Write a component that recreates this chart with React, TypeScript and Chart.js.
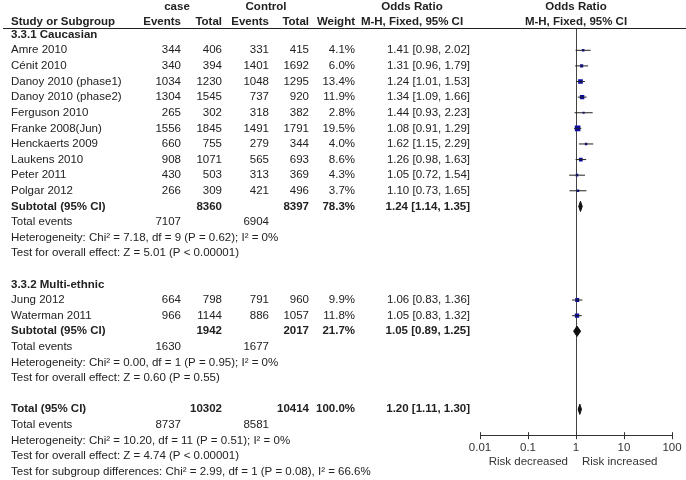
import { useEffect, useRef } from "react";
import { Chart, registerables } from "chart.js";

Chart.register(...registerables);

// ---------- data ----------
const studyNames = [
  "Amre 2010",
  "Cénit 2010",
  "Danoy 2010 (phase1)",
  "Danoy 2010 (phase2)",
  "Ferguson 2010",
  "Franke 2008(Jun)",
  "Henckaerts 2009",
  "Laukens 2010",
  "Peter 2011",
  "Polgar 2012",
  "Jung 2012",
  "Waterman 2011",
];
const studyGroup = [0, 0, 0, 0, 0, 0, 0, 0, 0, 0, 1, 1];
const caseEvents = [344, 340, 1034, 1304, 265, 1556, 660, 908, 430, 266, 664, 966];
const caseTotal = [406, 394, 1230, 1545, 302, 1845, 755, 1071, 503, 309, 798, 1144];
const ctrlEvents = [331, 1401, 1048, 737, 318, 1491, 279, 565, 313, 421, 791, 886];
const ctrlTotal = [415, 1692, 1295, 920, 382, 1791, 344, 693, 369, 496, 960, 1057];
const studyWeight = [4.1, 6.0, 13.4, 11.9, 2.8, 19.5, 4.0, 8.6, 4.3, 3.7, 9.9, 11.8];
const studyOR = [1.41, 1.31, 1.24, 1.34, 1.44, 1.08, 1.62, 1.26, 1.05, 1.10, 1.06, 1.05];
const studyLo = [0.98, 0.96, 1.01, 1.09, 0.93, 0.91, 1.15, 0.98, 0.72, 0.73, 0.83, 0.83];
const studyHi = [2.02, 1.79, 1.53, 1.66, 2.23, 1.29, 2.29, 1.63, 1.54, 1.65, 1.36, 1.32];

const groupNames = ["3.3.1 Caucasian", "3.3.2 Multi-ethnic"];
const groupCaseTotal = [8360, 1942];
const groupCtrlTotal = [8397, 2017];
const groupWeight = [78.3, 21.7];
const groupOR = [1.24, 1.05];
const groupLo = [1.14, 0.89];
const groupHi = [1.35, 1.25];
const groupCaseEvents = [7107, 1630];
const groupCtrlEvents = [6904, 1677];
const groupHeterogeneity = [
  "Heterogeneity: Chi² = 7.18, df = 9 (P = 0.62); I² = 0%",
  "Heterogeneity: Chi² = 0.00, df = 1 (P = 0.95); I² = 0%",
];
const groupEffect = [
  "Test for overall effect: Z = 5.01 (P < 0.00001)",
  "Test for overall effect: Z = 0.60 (P = 0.55)",
];

const totalCaseTotal = 10302;
const totalCtrlTotal = 10414;
const totalWeight = 100.0;
const totalOR = 1.2;
const totalLo = 1.11;
const totalHi = 1.3;
const totalCaseEvents = 8737;
const totalCtrlEvents = 8581;
const totalNotes = [
  "Heterogeneity: Chi² = 10.20, df = 11 (P = 0.51); I² = 0%",
  "Test for overall effect: Z = 4.74 (P < 0.00001)",
  "Test for subgroup differences: Chi² = 2.99, df = 1 (P = 0.08), I² = 66.6%",
];

const xTicks = [0.01, 0.1, 1, 10, 100];
const xLabelLeft = "Risk decreased";
const xLabelRight = "Risk increased";

// ---------- layout / style ----------
const FAM = "'Liberation Sans', Arial, Helvetica, sans-serif";
const FS = 11.5;
const TEXT = "#222";
const BLUE = "#0c0ca2";
const ROW_A = 3.5; // pixel of row 0
const ROW_B = 15.6; // pixel pitch
const PLOT_TOP = 28;
const PLOT_BOTTOM = 435;
const COL = {
  label: 11,
  caseEv: 181,
  caseTot: 222,
  ctrlEv: 269,
  ctrlTot: 309,
  weight: 355,
  orText: 470,
  caseHead: 177,
  ctrlHead: 266,
  orHead: 412,
};

type Row =
  | { kind: "group"; y: number; g: number }
  | { kind: "study"; y: number; i: number }
  | { kind: "subtotal"; y: number; g: number }
  | { kind: "events"; y: number; a: number; b: number }
  | { kind: "note"; y: number; text: string }
  | { kind: "total"; y: number };

function buildRows(): Row[] {
  const rows: Row[] = [];
  let r = 2;
  groupNames.forEach((_, g) => {
    rows.push({ kind: "group", y: r++, g });
    studyNames.forEach((__, i) => {
      if (studyGroup[i] === g) rows.push({ kind: "study", y: r++, i });
    });
    rows.push({ kind: "subtotal", y: r++, g });
    rows.push({ kind: "events", y: r++, a: groupCaseEvents[g], b: groupCtrlEvents[g] });
    rows.push({ kind: "note", y: r++, text: groupHeterogeneity[g] });
    rows.push({ kind: "note", y: r++, text: groupEffect[g] });
    r++;
  });
  rows.push({ kind: "total", y: r++ });
  rows.push({ kind: "events", y: r++, a: totalCaseEvents, b: totalCtrlEvents });
  totalNotes.forEach((t) => rows.push({ kind: "note", y: r++, text: t }));
  return rows;
}

const fmtCI = (o: number, l: number, h: number) =>
  `${o.toFixed(2)} [${l.toFixed(2)}, ${h.toFixed(2)}]`;

export default function App() {
  const ref = useRef<HTMLCanvasElement | null>(null);

  useEffect(() => {
    if (!ref.current) return;
    const rows = buildRows();
    const studyRow: number[] = [];
    const subRow: number[] = [];
    let totalRow = 0;
    rows.forEach((r) => {
      if (r.kind === "study") studyRow[r.i] = r.y;
      if (r.kind === "subtotal") subRow[r.g] = r.y;
      if (r.kind === "total") totalRow = r.y;
    });

    const dh = 0.33;
    const diamond = (o: number, l: number, h: number, y: number) => ({
      data: [
        { x: l, y },
        { x: o, y: y - dh },
        { x: h, y },
        { x: o, y: y + dh },
        { x: l, y },
      ],
      showLine: true,
      fill: "shape" as any,
      backgroundColor: "#111",
      borderColor: "#111",
      borderWidth: 1,
      pointRadius: 0,
      tension: 0,
    });

    const datasets: any[] = [];
    studyNames.forEach((_, i) => {
      datasets.push({
        data: [
          { x: studyLo[i], y: studyRow[i] },
          { x: studyHi[i], y: studyRow[i] },
        ],
        showLine: true,
        borderColor: "#222",
        borderWidth: 1,
        pointRadius: 0,
      });
    });
    datasets.push({
      data: studyNames.map((_, i) => ({ x: studyOR[i], y: studyRow[i] })),
      pointStyle: "rect",
      pointRadius: studyWeight.map((w) => 0.9 * Math.sqrt(w)),
      backgroundColor: BLUE,
      borderColor: BLUE,
      borderWidth: 0,
    });
    groupNames.forEach((_, g) =>
      datasets.push(diamond(groupOR[g], groupLo[g], groupHi[g], subRow[g]))
    );
    datasets.push(diamond(totalOR, totalLo, totalHi, totalRow));

    const yMin = (PLOT_TOP - ROW_A) / ROW_B;
    const yMax = (PLOT_BOTTOM - ROW_A) / ROW_B;

    const tablePlugin = {
      id: "forestTable",
      afterDraw(chart: any) {
        const ctx = chart.ctx as CanvasRenderingContext2D;
        const ys = chart.scales.y;
        const xs = chart.scales.x;
        const area = chart.chartArea;
        const py = (v: number) => ys.getPixelForValue(v);
        const put = (t: string, px: number, v: number, align: CanvasTextAlign, b = false) => {
          ctx.font = `${b ? "bold " : ""}${FS}px ${FAM}`;
          ctx.textAlign = align;
          ctx.fillText(t, px, py(v));
        };
        ctx.save();
        ctx.fillStyle = TEXT;
        ctx.textBaseline = "middle";
        const plotMid = (area.left + area.right) / 2;

        // headers
        put("case", COL.caseHead, 0.2, "center", true);
        put("Control", COL.ctrlHead, 0.2, "center", true);
        put("Odds Ratio", COL.orHead, 0.2, "center", true);
        put("Odds Ratio", plotMid, 0.2, "center", true);
        put("Study or Subgroup", COL.label, 1.2, "left", true);
        put("Events", COL.caseEv, 1.2, "right", true);
        put("Total", COL.caseTot, 1.2, "right", true);
        put("Events", COL.ctrlEv, 1.2, "right", true);
        put("Total", COL.ctrlTot, 1.2, "right", true);
        put("Weight", COL.weight, 1.2, "right", true);
        put("M-H, Fixed, 95% CI", COL.orHead, 1.2, "center", true);
        put("M-H, Fixed, 95% CI", plotMid, 1.2, "center", true);

        rows.forEach((r) => {
          if (r.kind === "group") put(groupNames[r.g], COL.label, r.y, "left", true);
          else if (r.kind === "study") {
            const i = r.i;
            put(studyNames[i], COL.label, r.y, "left");
            put(String(caseEvents[i]), COL.caseEv, r.y, "right");
            put(String(caseTotal[i]), COL.caseTot, r.y, "right");
            put(String(ctrlEvents[i]), COL.ctrlEv, r.y, "right");
            put(String(ctrlTotal[i]), COL.ctrlTot, r.y, "right");
            put(studyWeight[i].toFixed(1) + "%", COL.weight, r.y, "right");
            put(fmtCI(studyOR[i], studyLo[i], studyHi[i]), COL.orText, r.y, "right");
          } else if (r.kind === "subtotal") {
            const g = r.g;
            put("Subtotal (95% CI)", COL.label, r.y, "left", true);
            put(String(groupCaseTotal[g]), COL.caseTot, r.y, "right", true);
            put(String(groupCtrlTotal[g]), COL.ctrlTot, r.y, "right", true);
            put(groupWeight[g].toFixed(1) + "%", COL.weight, r.y, "right", true);
            put(fmtCI(groupOR[g], groupLo[g], groupHi[g]), COL.orText, r.y, "right", true);
          } else if (r.kind === "events") {
            put("Total events", COL.label, r.y, "left");
            put(String(r.a), COL.caseEv, r.y, "right");
            put(String(r.b), COL.ctrlEv, r.y, "right");
          } else if (r.kind === "note") {
            put(r.text, COL.label, r.y, "left");
          } else if (r.kind === "total") {
            put("Total (95% CI)", COL.label, r.y, "left", true);
            put(String(totalCaseTotal), COL.caseTot, r.y, "right", true);
            put(String(totalCtrlTotal), COL.ctrlTot, r.y, "right", true);
            put(totalWeight.toFixed(1) + "%", COL.weight, r.y, "right", true);
            put(fmtCI(totalOR, totalLo, totalHi), COL.orText, r.y, "right", true);
          }
        });

        // header rule
        ctx.strokeStyle = "#222";
        ctx.lineWidth = 1;
        ctx.beginPath();
        ctx.moveTo(3, Math.round(area.top) + 0.5);
        ctx.lineTo(chart.width, Math.round(area.top) + 0.5);
        ctx.stroke();

        // upward half of axis tick marks
        ctx.strokeStyle = "#333";
        ctx.beginPath();
        xs.ticks.forEach((t: any) => {
          const px = Math.round(xs.getPixelForValue(t.value)) + 0.5;
          ctx.moveTo(px, area.bottom - 3);
          ctx.lineTo(px, area.bottom);
        });
        ctx.stroke();

        // axis captions
        ctx.fillStyle = "#333";
        ctx.font = `${FS}px ${FAM}`;
        const x1 = xs.getPixelForValue(1);
        const yc = area.bottom + 27;
        ctx.textAlign = "right";
        ctx.fillText(xLabelLeft, x1 - 8, yc);
        ctx.textAlign = "left";
        ctx.fillText(xLabelRight, x1 + 6, yc);
        ctx.restore();
      },
    };

    const chart = new Chart(ref.current, {
      type: "scatter",
      data: { datasets },
      options: {
        animation: false,
        responsive: false,
        events: [],
        layout: { padding: { left: 480, right: 14, top: PLOT_TOP, bottom: 23 } },
        plugins: { legend: { display: false }, tooltip: { enabled: false } },
        scales: {
          x: {
            type: "logarithmic",
            min: 0.01,
            max: 100,
            position: "bottom",
            afterBuildTicks: (s: any) => {
              s.ticks = xTicks.map((v) => ({ value: v }));
            },
            ticks: {
              callback: (v: any) => String(v),
              font: { size: FS, family: FAM },
              color: "#333",
              maxRotation: 0,
              autoSkip: false,
              padding: 2,
            },
            grid: {
              drawOnChartArea: true,
              color: (c: any) => (c.tick && c.tick.value === 1 ? "#444" : "rgba(0,0,0,0)"),
              tickColor: "#333",
              tickLength: 4,
              lineWidth: 1,
            },
            border: { display: true, color: "#333", width: 1 },
          },
          y: {
            type: "linear",
            display: false,
            reverse: true,
            min: yMin,
            max: yMax,
          },
        },
      },
      plugins: [tablePlugin],
    });
    return () => chart.destroy();
  }, []);

  return (
    <div style={{ position: "absolute", left: 0, top: 0, width: 686, height: 480, background: "#fff" }}>
      <canvas ref={ref} width={686} height={480} style={{ display: "block" }} />
    </div>
  );
}
